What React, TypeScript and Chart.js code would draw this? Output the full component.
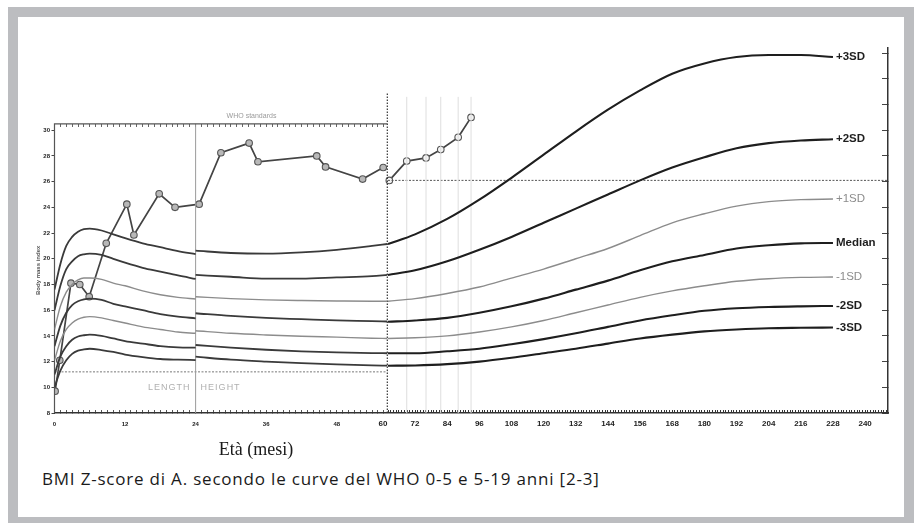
import { useEffect, useRef } from 'react';
import { Chart, registerables } from 'chart.js';
Chart.register(...registerables);

// ---- WHO 0-5 (girls) BMI curves: length part (0-24 months) ----
const LEN_AGE = [0, 1, 2, 3, 4, 5, 6, 8, 10, 12, 15, 18, 21, 24];
const LEN_P3 = [17.6, 19.6, 21.0, 21.7, 22.1, 22.3, 22.35, 22.2, 21.9, 21.6, 21.2, 20.9, 20.6, 20.37];
const LEN_P2 = [16.0, 17.9, 19.2, 19.8, 20.2, 20.35, 20.4, 20.3, 20.0, 19.7, 19.3, 19.0, 18.7, 18.43];
const LEN_P1 = [14.5, 16.3, 17.4, 18.0, 18.35, 18.5, 18.5, 18.4, 18.1, 17.9, 17.5, 17.2, 17.0, 16.87];
const LEN_M = [13.2, 14.8, 15.8, 16.4, 16.7, 16.85, 16.9, 16.8, 16.5, 16.3, 16.0, 15.7, 15.5, 15.37];
const LEN_N1 = [12.1, 13.6, 14.5, 15.0, 15.3, 15.45, 15.5, 15.4, 15.2, 15.0, 14.7, 14.5, 14.3, 14.2];
const LEN_N2 = [11.0, 12.4, 13.2, 13.7, 13.95, 14.05, 14.1, 14.0, 13.8, 13.6, 13.4, 13.2, 13.1, 13.08];
const LEN_N3 = [10.0, 11.3, 12.1, 12.6, 12.85, 12.95, 13.0, 12.9, 12.75, 12.55, 12.35, 12.2, 12.15, 12.12];

// ---- WHO 0-5 height part (24-57 months) ----
const HT_AGE = [24, 30, 36, 42, 48, 54, 56.6];
const HT_P3 = [20.63, 20.45, 20.4, 20.5, 20.7, 21.0, 21.15];
const HT_P2 = [18.74, 18.6, 18.45, 18.45, 18.55, 18.65, 18.74];
const HT_P1 = [17.05, 16.9, 16.8, 16.75, 16.72, 16.7, 16.7];
const HT_M = [15.76, 15.55, 15.4, 15.3, 15.2, 15.15, 15.12];
const HT_N1 = [14.4, 14.2, 14.07, 13.97, 13.9, 13.82, 13.8];
const HT_N2 = [13.29, 13.08, 12.92, 12.8, 12.72, 12.66, 12.65];
const HT_N3 = [12.38, 12.15, 12.0, 11.88, 11.78, 11.7, 11.68];

// ---- WHO 5-19 curves ----
const R_AGE = [61.9, 72, 84, 96, 108, 120, 132, 144, 156, 168, 180, 192, 204, 216, 228];
const R_P3 = [21.15, 21.9, 23.1, 24.6, 26.3, 28.1, 29.9, 31.6, 33.1, 34.4, 35.2, 35.7, 35.85, 35.85, 35.7];
const R_P2 = [18.74, 19.1, 19.8, 20.7, 21.7, 22.8, 23.9, 25.0, 26.1, 27.1, 27.9, 28.6, 29.0, 29.2, 29.3];
const R_P1 = [16.7, 16.9, 17.3, 17.8, 18.5, 19.2, 20.0, 20.8, 21.8, 22.8, 23.5, 24.1, 24.45, 24.6, 24.65];
const R_M = [15.1, 15.2, 15.4, 15.8, 16.3, 16.9, 17.6, 18.3, 19.1, 19.8, 20.3, 20.8, 21.05, 21.2, 21.23];
const R_N1 = [13.8, 13.85, 14.0, 14.3, 14.7, 15.2, 15.8, 16.4, 17.0, 17.5, 17.9, 18.25, 18.45, 18.55, 18.58];
const R_N2 = [12.65, 12.65, 12.8, 13.0, 13.35, 13.75, 14.2, 14.7, 15.2, 15.6, 15.95, 16.15, 16.25, 16.3, 16.33];
const R_N3 = [11.68, 11.7, 11.8, 12.0, 12.3, 12.65, 13.0, 13.4, 13.8, 14.1, 14.35, 14.5, 14.6, 14.63, 14.65];

// ---- Patient A ----
const PAT_05_AGE = [0.1, 0.9, 2.8, 4.3, 5.9, 8.8, 12.3, 13.5, 17.8, 20.5, 24.6, 28.3, 33.1, 34.6, 44.6, 46.1, 52.4, 55.9];
const PAT_05_BMI = [9.7, 12.1, 18.1, 18.0, 17.05, 21.2, 24.25, 21.85, 25.05, 24.0, 24.25, 28.25, 29.0, 27.55, 28.0, 27.15, 26.2, 27.1];
const PAT_519_AGE = [62.4, 68.9, 76.1, 81.6, 88.1, 92.9];
const PAT_519_BMI = [26.1, 27.6, 27.85, 28.5, 29.45, 31.0];

// ---- labels / ticks ----
const SD_NAMES = ['+3SD', '+2SD', '+1SD', 'Median', '-1SD', '-2SD', '-3SD'];
const X_LABELS_05 = [0, 12, 24, 36, 48];
const X_LABELS_519 = [60, 72, 84, 96, 108, 120, 132, 144, 156, 168, 180, 192, 204, 216, 228, 240];
const Y_LABELS = [8, 10, 12, 14, 16, 18, 20, 22, 24, 26, 28, 30];

// reference lines (values)
const PANEL_END = 56.6;
const PANEL_TOP = 30.5;
const CUT_TOP = 32.9;
const HIGH_REF = 26.1;
const LOW_REF = 11.2;

const LEN_SERIES = [LEN_P3, LEN_P2, LEN_P1, LEN_M, LEN_N1, LEN_N2, LEN_N3];
const HT_SERIES = [HT_P3, HT_P2, HT_P1, HT_M, HT_N1, HT_N2, HT_N3];
const R_SERIES = [R_P3, R_P2, R_P1, R_M, R_N1, R_N2, R_N3];
const IS_GRAY = [false, false, true, false, true, false, false];

const pts = (xs: number[], ys: number[]) => xs.map((x, i) => ({ x, y: ys[i] }));
const near = (v: number, list: number[]) => list.some((l) => Math.abs(l - v) < 1e-6);

export default function App() {
  const ref = useRef<HTMLCanvasElement>(null);

  useEffect(() => {
    if (!ref.current) return;
    const datasets: any[] = [];
    const curve = (data: any[], axis: string, gray: boolean, right: boolean) => ({
      data,
      xAxisID: axis,
      yAxisID: 'y',
      borderColor: gray ? '#8c8c8c' : right ? '#1e1e1e' : '#3a3a3a',
      borderWidth: gray ? 1.4 : right ? 2.1 : 1.8,
      pointRadius: 0,
      cubicInterpolationMode: 'monotone',
      fill: false,
    });
    LEN_SERIES.forEach((s, i) => datasets.push(curve(pts(LEN_AGE, s), 'xL', IS_GRAY[i], false)));
    HT_SERIES.forEach((s, i) => datasets.push(curve(pts(HT_AGE, s), 'xL', IS_GRAY[i], false)));
    R_SERIES.forEach((s, i) => datasets.push(curve(pts(R_AGE, s), 'xR', IS_GRAY[i], true)));

    // faint guides at the 5-19 visits
    const guides: any[] = [];
    PAT_519_AGE.slice(1).forEach((a) => {
      guides.push({ x: a, y: 8 }, { x: a, y: CUT_TOP - 0.3 }, { x: a, y: null });
    });
    datasets.push({ data: guides, xAxisID: 'xR', yAxisID: 'y', borderColor: '#dedede', borderWidth: 1, pointRadius: 0, spanGaps: false });

    // panel frame of WHO 0-5
    datasets.push({ data: [{ x: 0, y: 8 }, { x: 0, y: PANEL_TOP }, { x: PANEL_END, y: PANEL_TOP }], xAxisID: 'xL', yAxisID: 'y', borderColor: '#555', borderWidth: 1.2, pointRadius: 0, clip: false });
    datasets.push({ data: [{ x: 24, y: 8 }, { x: 24, y: PANEL_TOP }], xAxisID: 'xL', yAxisID: 'y', borderColor: '#9a9a9a', borderWidth: 1, pointRadius: 0 });
    datasets.push({ data: [{ x: PANEL_END, y: 8 }, { x: PANEL_END, y: CUT_TOP }], xAxisID: 'xL', yAxisID: 'y', borderColor: '#333', borderWidth: 1.2, borderDash: [1.5, 1.5], pointRadius: 0 });
    datasets.push({ data: [{ x: 0, y: LOW_REF }, { x: PANEL_END, y: LOW_REF }], xAxisID: 'xL', yAxisID: 'y', borderColor: '#777', borderWidth: 1, borderDash: [2, 1.5], pointRadius: 0 });
    datasets.push({ data: [{ x: R_AGE[0], y: HIGH_REF }, { x: 250, y: HIGH_REF }], xAxisID: 'xR', yAxisID: 'y', borderColor: '#555', borderWidth: 1, borderDash: [2, 1.5], pointRadius: 0 });

    // patient
    datasets.push({ data: pts(PAT_05_AGE, PAT_05_BMI), xAxisID: 'xL', yAxisID: 'y', borderColor: '#444', borderWidth: 1.7, pointRadius: 3.3, pointBackgroundColor: '#b8b8b8', pointBorderColor: '#555', pointBorderWidth: 1.1 });
    datasets.push({ data: pts(PAT_519_AGE, PAT_519_BMI), xAxisID: 'xR', yAxisID: 'y', borderColor: '#444', borderWidth: 1.7, pointRadius: 3.3, pointBackgroundColor: '#f4f4f4', pointBorderColor: '#555', pointBorderWidth: 1.1 });

    const textPlugin = {
      id: 'texts',
      afterDatasetsDraw(chart: any) {
        const { ctx } = chart;
        const xR = chart.scales.xR, xL = chart.scales.xL, y = chart.scales.y;
        ctx.save();
        ctx.textBaseline = 'middle';
        SD_NAMES.forEach((name, i) => {
          const s = R_SERIES[i];
          const px = xR.getPixelForValue(R_AGE[R_AGE.length - 1]) + 3;
          const py = y.getPixelForValue(s[s.length - 1]);
          ctx.font = (IS_GRAY[i] ? '' : 'bold ') + '11.5px "Liberation Sans", Arial, sans-serif';
          ctx.fillStyle = IS_GRAY[i] ? '#8c8c8c' : '#1e1e1e';
          ctx.textAlign = 'left';
          ctx.fillText(name, px, py);
        });
        ctx.fillStyle = '#9a9a9a';
        ctx.font = '7px "Liberation Sans", Arial, sans-serif';
        ctx.textAlign = 'center';
        ctx.fillText('WHO standards', xL.getPixelForValue(33.5), y.getPixelForValue(31.1));
        ctx.fillStyle = '#b0b0b0';
        ctx.font = '9px "Liberation Sans", Arial, sans-serif';
        (ctx as any).letterSpacing = '1px';
        ctx.textAlign = 'right';
        ctx.fillText('LENGTH', xL.getPixelForValue(24) - 5, y.getPixelForValue(10));
        ctx.textAlign = 'left';
        ctx.fillText('HEIGHT', xL.getPixelForValue(24) + 5, y.getPixelForValue(10));
        (ctx as any).letterSpacing = '0px';
        ctx.translate(y.left + 6, y.getPixelForValue(19.1));
        ctx.rotate(-Math.PI / 2);
        ctx.textAlign = 'center';
        ctx.fillStyle = '#555';
        ctx.font = 'bold 6px "Liberation Sans", Arial, sans-serif';
        ctx.fillText('Body mass index', 0, 0);
        ctx.restore();
      },
    };

    const chart = new Chart(ref.current, {
      type: 'line',
      data: { datasets },
      plugins: [textPlugin],
      options: {
        animation: false,
        responsive: false,
        maintainAspectRatio: false,
        devicePixelRatio: 1,
        parsing: true,
        layout: { padding: { left: 14, top: 31, right: 14, bottom: 14 } },
        plugins: { legend: { display: false }, tooltip: { enabled: false }, title: { display: false } },
        elements: { line: { tension: 0 } },
        scales: {
          xL: {
            type: 'linear', position: 'bottom', min: 0, max: 141.75,
            afterFit: (s: any) => { s.height = 30; },
            border: { color: '#333', width: 1.5 },
            grid: { drawOnChartArea: false, tickLength: -3, tickColor: (c: any) => (c.tick && c.tick.value <= PANEL_END ? '#555' : 'rgba(0,0,0,0)') },
            ticks: {
              stepSize: 1, autoSkip: false, includeBounds: false, maxRotation: 0, padding: 10.4,
              color: '#222', font: { size: 6, weight: 'bold', family: '"Liberation Sans", Arial, sans-serif' },
              callback: (v: any) => (near(Number(v), X_LABELS_05) ? String(v) : ''),
            },
          },
          xR: {
            type: 'linear', position: { y: 8 } as any, min: -62.58, max: 248.54,
            border: { display: false },
            grid: { drawOnChartArea: false, tickLength: -3, tickColor: (c: any) => (c.tick && c.tick.value >= R_AGE[0] ? '#333' : 'rgba(0,0,0,0)') },
            ticks: {
              stepSize: 1, autoSkip: false, includeBounds: false, maxRotation: 0, padding: 9.2,
              color: '#222', font: { size: 8, weight: 'bold', family: '"Liberation Sans", Arial, sans-serif' },
              callback: (v: any) => (near(Number(v), X_LABELS_519) ? String(v) : ''),
            },
          },
          xT: {
            type: 'linear', position: { y: PANEL_TOP } as any, min: 0, max: 141.75,
            border: { display: false },
            grid: { drawOnChartArea: false, tickLength: 3, tickColor: (c: any) => (c.tick && c.tick.value <= PANEL_END ? '#666' : 'rgba(0,0,0,0)') },
            ticks: { stepSize: 1, autoSkip: false, includeBounds: false, display: false },
          },
          y: {
            type: 'linear', position: 'left', min: 8, max: 36.4,
            afterFit: (s: any) => { s.width = 22.5; },
            border: { display: false },
            grid: { drawOnChartArea: false, tickLength: 3, tickColor: (c: any) => (c.tick && c.tick.value <= 30 ? '#444' : 'rgba(0,0,0,0)') },
            ticks: {
              stepSize: 2, autoSkip: false, includeBounds: false, padding: 1.5,
              color: '#222', font: { size: 6, weight: 'bold', family: '"Liberation Sans", Arial, sans-serif' },
              callback: (v: any) => (near(Number(v), Y_LABELS) ? String(v) : ''),
            },
          },
          yR: {
            type: 'linear', position: 'right', min: 8, max: 36.4,
            afterFit: (s: any) => { s.width = 2; },
            border: { color: '#333', width: 1.5 },
            grid: { drawOnChartArea: false, tickLength: -6, tickColor: '#444' },
            ticks: { stepSize: 2, includeBounds: false, display: false },
          },
        },
      } as any,
    });
    return () => chart.destroy();
  }, []);

  return (
    <div
      style={{
        position: 'absolute', left: 8, top: 7, width: 906, height: 516, boxSizing: 'border-box',
        borderStyle: 'solid', borderColor: '#bcbdc0', borderWidth: '10px 10px 6px 10px', background: '#fff', overflow: 'hidden',
      }}
    >
      <canvas ref={ref} width={886} height={440} style={{ position: 'absolute', left: 0, top: 0, width: 886, height: 440, display: 'block' }} />
      <div style={{ position: 'absolute', left: 178, top: 422, width: 120, textAlign: 'center', font: '18px "Liberation Serif", "Times New Roman", serif', lineHeight: '20px', color: '#1a1a1a' }}>
        Età (mesi)
      </div>
      <div style={{ position: 'absolute', left: 24, top: 451, whiteSpace: 'nowrap', font: '17px "Open Sans", sans-serif', letterSpacing: '0.8px', lineHeight: '22px', color: '#1a1a1a' }}>
        BMI Z-score di A. secondo le curve del WHO 0-5 e 5-19 anni [2-3]
      </div>
    </div>
  );
}
